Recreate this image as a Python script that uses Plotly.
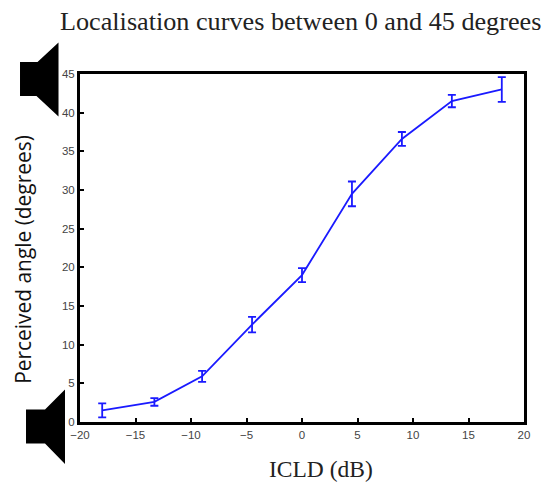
import plotly.graph_objects as go

icld = [-18, -13.3, -9, -4.5, 0, 4.5, 9, 13.5, 18]
angle = [1.5, 2.6, 5.9, 12.6, 19.0, 29.5, 36.6, 41.5, 43.0]
err = [0.9, 0.5, 0.7, 1.0, 0.9, 1.6, 0.9, 0.8, 1.6]
x_ticks = [-20, -15, -10, -5, 0, 5, 10, 15, 20]
x_labels = ["\u221220", "\u221215", "\u221210", "\u22125", "0", "5", "10", "15", "20"]
y_ticks = [0, 5, 10, 15, 20, 25, 30, 35, 40, 45]

W, H = 546, 482
L, R, T, B = 80, 524, 74, 422.5


def px(x):
    return (x - L) / (R - L)


def py(y):
    return (B - y) / (B - T)


def speaker(points):
    parts = [f"{'M' if i == 0 else 'L'} {px(a):.4f} {py(b):.4f}" for i, (a, b) in enumerate(points)]
    return dict(type="path", xref="paper", yref="paper", path=" ".join(parts) + " Z",
                fillcolor="black", line=dict(width=0), layer="above")


top_speaker = [(20, 62), (37.5, 62), (58.5, 42.5), (58.5, 116.5), (36.5, 96), (20, 96)]
bottom_speaker = [(26, 410), (45, 410), (65, 390), (65, 464.5), (45, 444), (26, 444)]

fig = go.Figure(go.Scatter(
    x=icld, y=angle, mode="lines",
    line=dict(color="#1a1aff", width=1.8),
    error_y=dict(type="data", array=err, color="#1a1aff", thickness=1.8, width=4),
))

axis_common = dict(showgrid=False, zeroline=False, showline=True, linecolor="black", linewidth=3,
                   mirror=True, ticks="inside", tickcolor="black", tickwidth=2, ticklen=4,
                   tickfont=dict(family="Liberation Sans", size=11.5, color="#444444"))

fig.update_layout(
    width=W, height=H,
    margin=dict(l=L, r=W - R, t=T, b=H - B),
    paper_bgcolor="white", plot_bgcolor="white", showlegend=False,
    title=dict(text="Localisation curves between 0 and 45 degrees",
               font=dict(family="Liberation Serif", size=26.2, color="#222222"),
               x=60 / W, xanchor="left", y=1 - 21 / H, yanchor="middle"),
    xaxis=dict(range=[-20, 20], tickvals=x_ticks, ticktext=x_labels, ticklabelstandoff=0, **axis_common),
    yaxis=dict(range=[0, 45], tickvals=y_ticks, **axis_common),
    shapes=[speaker(top_speaker), speaker(bottom_speaker)],
    annotations=[
        dict(text="ICLD (dB)", xref="paper", yref="paper", x=px(321), y=py(470), showarrow=False,
             xanchor="center", yanchor="middle",
             font=dict(family="Liberation Serif", size=23.5, color="#222222")),
        dict(text="Perceived angle (degrees)", xref="paper", yref="paper", x=px(23), y=py(260),
             showarrow=False, textangle=-90, xanchor="center", yanchor="middle",
             font=dict(family="Open Sans", size=20.9, color="#111111")),
    ],
)

fig.write_html("out.html", config={"displayModeBar": False},
               post_script="document.body.style.margin='0';")
